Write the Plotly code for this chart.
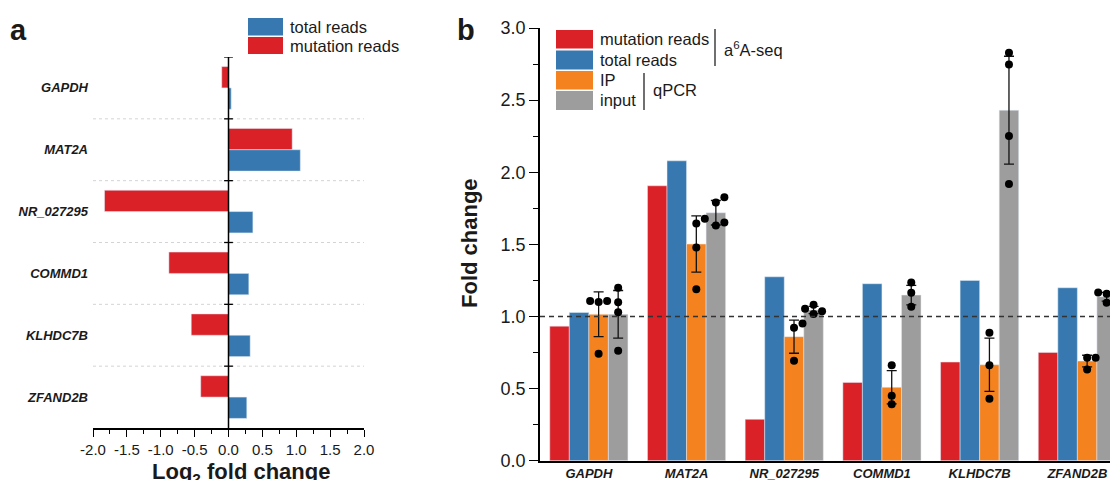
import plotly.graph_objects as go

# ---------------- data ----------------
genes = ["GAPDH", "MAT2A", "NR_027295", "COMMD1", "KLHDC7B", "ZFAND2B"]

# panel a: log2 fold change
log2_total = [0.04, 1.06, 0.36, 0.30, 0.32, 0.27]
log2_mut = [-0.10, 0.94, -1.83, -0.88, -0.55, -0.41]

# panel b: fold change
fc_mut = [0.933, 1.906, 0.287, 0.543, 0.684, 0.751]
fc_total = [1.028, 2.079, 1.275, 1.227, 1.250, 1.199]
ip_mean = [1.015, 1.502, 0.860, 0.509, 0.665, 0.691]
ip_sd = [0.155, 0.195, 0.115, 0.115, 0.185, 0.040]
input_mean = [1.015, 1.719, 1.045, 1.148, 2.430, 1.137]
input_sd = [0.165, 0.085, 0.025, 0.067, 0.374, 0.030]

ip_reps = [
    [1.107, 1.100, 1.107, 0.742],
    [1.645, 1.677, 1.479, 1.188],
    [0.922, 0.952, 0.693],
    [0.661, 0.450, 0.391],
    [0.887, 0.661, 0.430],
    [0.714, 0.714, 0.633],
]
input_reps = [
    [1.199, 1.098, 1.030, 0.762],
    [1.827, 1.790, 1.631, 1.652],
    [1.053, 1.037, 1.081, 1.017],
    [1.236, 1.164, 1.067],
    [2.828, 2.747, 2.252, 1.918],
    [1.167, 1.162, 1.157, 1.095],
]

a_ticks = [-2.0, -1.5, -1.0, -0.5, 0.0, 0.5, 1.0, 1.5, 2.0]
b_ticks = [0.0, 0.5, 1.0, 1.5, 2.0, 2.5, 3.0]

# ---------------- style ----------------
PAGE_PAD = 8                      # default body margin of the html page
W, H = 1118 - PAGE_PAD, 480 - PAGE_PAD
RED = "#DA2128"
BLUE = "#3778B0"
ORANGE = "#F4821F"
GRAY = "#9D9D9D"
TXT = "#1a1a1a"
FONT = "Liberation Sans, Arial, sans-serif"


def px(x):
    return (x - PAGE_PAD) / W


def py(y):
    return 1 - (y - PAGE_PAD) / H


# panel geometry (paper fractions), from page pixel positions
ax_a_x = [px(93), px(364)]
ax_a_y = [py(428), py(57)]
ax_b_x = [px(540), 1.0]
ax_b_y = [py(460.7), py(28)]
b_range_x = [-0.5, 5.416]
b_range_y = [0, 3.0]

ppu_x = W * (ax_b_x[1] - ax_b_x[0]) / (b_range_x[1] - b_range_x[0])
ppu_y = H * (ax_b_y[1] - ax_b_y[0]) / (b_range_y[1] - b_range_y[0])

BW_A = 0.345
BW_B = 0.2
offs_b = [-0.4, -0.2, 0.0, 0.2]


def swarm(vals, d=8.5, s=8.5):
    """deterministic beeswarm: returns x offsets (data units)"""
    order = sorted(range(len(vals)), key=lambda k: vals[k])
    placed = []
    out = [0.0] * len(vals)
    for k in order:
        ypx = vals[k] * ppu_y
        for c in [0, 1, -1, 2, -2]:
            xpx = c * s
            ok = all(((xpx - a) ** 2 + (ypx - b) ** 2) ** 0.5 >= d for a, b in placed)
            if ok:
                placed.append((xpx, ypx))
                out[k] = xpx / ppu_x
                break
    return out


fig = go.Figure()
idx = list(range(len(genes)))

# ---------- panel a ----------
fig.add_trace(go.Bar(x=log2_mut, y=idx, orientation="h", marker_color=RED,
                     width=BW_A, offset=-BW_A, xaxis="x", yaxis="y",
                     showlegend=False, name="mutation reads"))
fig.add_trace(go.Bar(x=log2_total, y=idx, orientation="h", marker_color=BLUE,
                     width=BW_A, offset=0, xaxis="x", yaxis="y",
                     showlegend=False, name="total reads"))

# ---------- panel b ----------
series_b = [
    (fc_mut, None, RED, "mutation reads"),
    (fc_total, None, BLUE, "total reads"),
    (ip_mean, ip_sd, ORANGE, "IP"),
    (input_mean, input_sd, GRAY, "input"),
]
for j, (vals, sd, col, nm) in enumerate(series_b):
    kw = {}
    if sd is not None:
        kw["error_y"] = dict(type="data", array=sd, visible=True, color="#111",
                             thickness=1.3, width=5)
    fig.add_trace(go.Bar(x=idx, y=vals, marker_color=col, width=BW_B,
                         offset=offs_b[j], xaxis="x2", yaxis="y2",
                         showlegend=False, name=nm, **kw))

for j, reps_all in [(2, ip_reps), (3, input_reps)]:
    xs, ys = [], []
    for i, reps in enumerate(reps_all):
        dx = swarm(reps)
        for v, d in zip(reps, dx):
            xs.append(i + offs_b[j] + BW_B / 2 + d)
            ys.append(v)
    fig.add_trace(go.Scatter(x=xs, y=ys, mode="markers",
                             marker=dict(color="black", size=8),
                             xaxis="x2", yaxis="y2", showlegend=False,
                             hoverinfo="skip"))

shapes = []
# panel a decorations: dotted separators, central axis with crossing ticks
for i in range(len(genes) - 1):
    shapes.append(dict(type="line", xref="x", yref="y", x0=a_ticks[0], x1=a_ticks[-1],
                       y0=i + 0.5, y1=i + 0.5,
                       line=dict(color="#d4d4d4", width=1, dash="dot"), layer="below"))
shapes.append(dict(type="line", xref="x", yref="y", x0=0, x1=0, y0=-0.5,
                   y1=len(genes) - 0.5, line=dict(color="black", width=1.5)))
for i in range(len(genes)):
    shapes.append(dict(type="line", xref="x", yref="y", x0=-0.065, x1=0.065,
                       y0=i - 0.5, y1=i - 0.5, line=dict(color="black", width=1.3)))
# panel b reference line
shapes.append(dict(type="line", xref="x2 domain", yref="y2", x0=0, x1=1, y0=1, y1=1,
                   line=dict(color="#333", width=1.4, dash="5px,4px")))

annotations = []


def box(x0, y0, x1, y1, col):
    shapes.append(dict(type="rect", xref="paper", yref="paper", x0=px(x0), x1=px(x1),
                       y0=py(y1), y1=py(y0), fillcolor=col, line=dict(width=0)))


def text(x, y, s, size=16.5, xanchor="left", bold=False, angle=0):
    annotations.append(dict(xref="paper", yref="paper", x=px(x), y=py(y), text=s,
                            showarrow=False, xanchor=xanchor, yanchor="middle",
                            textangle=angle,
                            font=dict(family=FONT, size=size, color=TXT,
                                      weight="bold" if bold else "normal")))


def vline(x, y0, y1):
    shapes.append(dict(type="line", xref="paper", yref="paper", x0=px(x), x1=px(x),
                       y0=py(y0), y1=py(y1), line=dict(color="#222", width=1.3)))


# legend a
box(248, 18, 283, 35.5, BLUE)
box(248, 37, 283, 54, RED)
text(288, 27, "total reads")
text(288, 46, "mutation reads")

# legend b
box(556, 30, 593, 48.5, RED)
box(556, 50.5, 593, 69.5, BLUE)
box(556, 71, 593, 89.5, ORANGE)
box(556, 91, 593, 110, GRAY)
text(598, 39, "mutation reads")
text(598, 60, "total reads")
text(598, 80, "IP")
text(598, 100, "input")
vline(715, 29, 66)
vline(644, 73, 110)
text(722, 49, "a<sup>6</sup>A-seq")
text(651, 90, "qPCR")

# panel labels and titles
text(18, 30, "a", size=29, xanchor="center", bold=True)
text(466, 30, "b", size=29, xanchor="center", bold=True)
text(241, 473, "Log<sub>2</sub> fold change", size=22, xanchor="center", bold=True)
text(469, 243, "Fold change", size=22, xanchor="center", bold=True, angle=-90)

fig.update_layout(
    width=W, height=H,
    margin=dict(l=0, r=0, t=0, b=0, autoexpand=False),
    paper_bgcolor="white", plot_bgcolor="white",
    barmode="overlay",
    font=dict(family=FONT, color=TXT),
    shapes=shapes, annotations=annotations,
    xaxis=dict(domain=ax_a_x, anchor="y", range=[a_ticks[0], a_ticks[-1]],
               tickvals=a_ticks, ticktext=[f"{t:.1f}" for t in a_ticks],
               showline=True, linecolor="black", linewidth=1.5,
               ticks="outside", ticklen=7, tickwidth=1.3, tickcolor="black",
               minor=dict(dtick=0.25, ticks="outside", ticklen=4, tickwidth=1.1,
                          tickcolor="black", showgrid=False),
               showgrid=False, zeroline=False, automargin=False,
               tickfont=dict(size=15, color=TXT)),
    yaxis=dict(domain=ax_a_y, anchor="x", range=[len(genes) - 0.5, -0.5],
               tickvals=idx, ticktext=[f"<b><i>{g}</i></b>" for g in genes],
               showline=False, ticks="", showgrid=False, zeroline=False,
               ticklabelstandoff=4, automargin=False,
               tickfont=dict(size=13, color=TXT)),
    xaxis2=dict(domain=ax_b_x, anchor="y2", range=b_range_x,
                tickvals=idx, ticktext=[f"<b><i>{g}</i></b>" for g in genes],
                showline=True, linecolor="black", linewidth=1.5, ticks="",
                showgrid=False, zeroline=False, automargin=False,
                tickfont=dict(size=13, color=TXT)),
    yaxis2=dict(domain=ax_b_y, anchor="x2", range=b_range_y,
                tickvals=b_ticks, ticktext=[f"{t:.1f}" for t in b_ticks],
                showline=True, linecolor="black", linewidth=1.5,
                ticks="outside", ticklen=9, tickwidth=1.3, tickcolor="black",
                minor=dict(dtick=0.25, ticks="outside", ticklen=5, tickwidth=1.1,
                           tickcolor="black", showgrid=False),
                showgrid=False, zeroline=False, automargin=False,
                tickfont=dict(size=18, color=TXT)),
)

fig.write_html("out.html")
